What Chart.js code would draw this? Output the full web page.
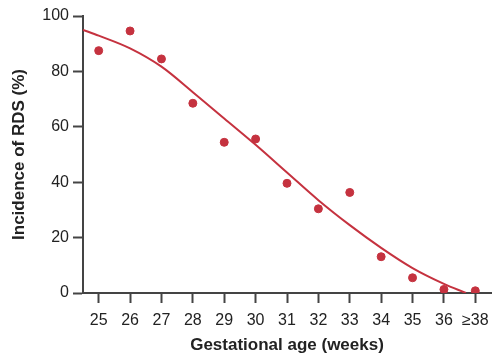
<!DOCTYPE html>
<html>
<head>
<meta charset="utf-8">
<script src="https://cdn.jsdelivr.net/npm/chart.js@4/dist/chart.umd.min.js"></script>
<style>
html,body{margin:0;padding:0;background:#fff;}
#wrap{width:500px;height:364px;position:relative;}
</style>
</head>
<body>
<div id="wrap"><canvas id="c" width="500" height="364"></canvas></div>
<script>
// Gestational age positions (37 stands for "≥38")
const ageWeeks = [25, 26, 27, 28, 29, 30, 31, 32, 33, 34, 35, 36, 37];
const tickLabels = {37: '≥38'};
const incidence = [87.5, 94.6, 84.5, 68.5, 54.4, 55.6, 39.6, 30.4, 36.3, 13.1, 5.5, 1.3, 0.8];
// fitted curve
const curveAge = [24.5, 25, 26, 27, 28, 29, 30, 31, 32, 33, 34, 35, 36, 36.7];
const curveVal = [95, 92.9, 88.3, 81.7, 72.5, 63, 53.5, 43.5, 33.5, 24.5, 16.3, 9, 3.3, 0];
const yTicks = [0, 20, 40, 60, 80, 100];

const red = '#c5323f';
const axisCol = '#444';
const textCol = '#222';
const fam = '"Liberation Sans", Arial, sans-serif';

new Chart(document.getElementById('c'), {
  type: 'scatter',
  data: {
    datasets: [
      {
        type: 'line',
        data: curveAge.map((x, i) => ({x, y: curveVal[i]})),
        borderColor: red,
        borderWidth: 2,
        pointRadius: 0,
        cubicInterpolationMode: 'monotone',
        fill: false
      },
      {
        data: ageWeeks.map((x, i) => ({x, y: incidence[i]})),
        backgroundColor: red,
        borderColor: red,
        pointRadius: 4,
        pointHoverRadius: 4
      }
    ]
  },
  options: {
    responsive: false,
    animation: false,
    events: [],
    layout: {padding: {top: 16, right: 9, left: 0, bottom: 0}},
    plugins: {legend: {display: false}, tooltip: {enabled: false}},
    scales: {
      x: {
        type: 'linear',
        min: 24.5, max: 37.5,
        afterFit: s => { s.height = 71; },
        afterBuildTicks: s => { s.ticks = ageWeeks.map(v => ({value: v})); },
        ticks: {
          autoSkip: false, maxRotation: 0,
          color: textCol, font: {family: fam, size: 16}, padding: 8,
          callback: v => tickLabels[v] || String(v)
        },
        grid: {display: true, drawOnChartArea: false, drawTicks: true, tickLength: 10, tickColor: axisCol, tickWidth: 2},
        border: {display: true, color: axisCol, width: 2},
        title: {display: true, text: 'Gestational age (weeks)', color: textCol,
          font: {family: fam, size: 17, weight: 'bold'}, padding: {top: 4, bottom: 8}}
      },
      y: {
        min: 0, max: 100,
        afterFit: s => { s.width = 83; },
        afterBuildTicks: s => { s.ticks = yTicks.map(v => ({value: v})); },
        ticks: {color: textCol, font: {family: fam, size: 16}, padding: 4},
        grid: {display: true, drawOnChartArea: false, drawTicks: true, tickLength: 10, tickColor: axisCol, tickWidth: 2},
        border: {display: true, color: axisCol, width: 2},
        title: {display: true, text: 'Incidence of RDS (%)', color: textCol,
          font: {family: fam, size: 17, weight: 'bold'}, padding: {top: 9, bottom: 4}}
      }
    }
  }
});
</script>
</body>
</html>
